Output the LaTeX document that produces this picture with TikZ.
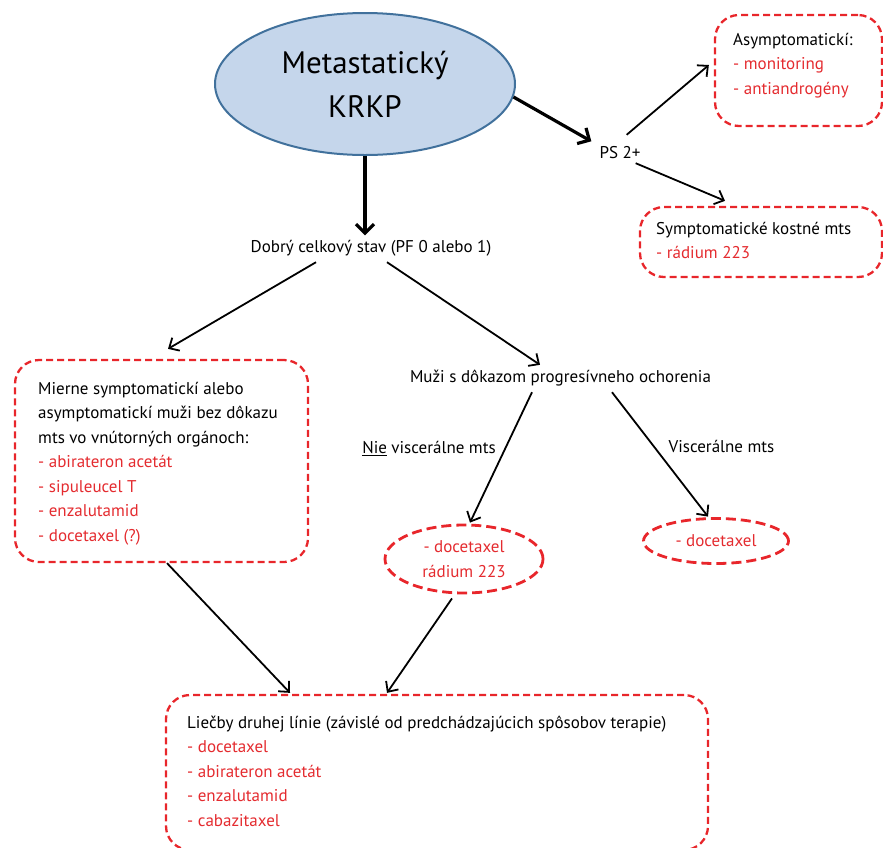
\documentclass[tikz,border=0pt]{standalone}
\usepackage{fontspec}
\setmainfont{PT Sans}
\usetikzlibrary{arrows.meta,shapes.geometric}
\definecolor{rd}{HTML}{E8262B}
\definecolor{txtred}{HTML}{E42B2F}
\definecolor{ellfill}{HTML}{C5D6EB}
\definecolor{elldraw}{HTML}{41719C}
\newcommand{\fsz}{\fontsize{17}{24.5}\selectfont}
\newcommand{\strutx}{\rule{0pt}{14pt}}
\begin{document}
\begin{tikzpicture}[x=1pt,y=-1pt,
  box/.style={draw=rd, line width=2.3pt, dash pattern=on 7pt off 4pt, rounded corners=24pt, inner sep=0},
  oval/.style={ellipse, draw=rd, line width=2.8pt, dash pattern=on 10pt off 5pt, inner sep=0, text=txtred, font=\fsz, align=center},
  arr/.style={-{Straight Barb[length=8pt,width=15pt]}, line width=1.8pt},
  tarr/.style={-{Straight Barb[length=9pt,width=18pt]}, line width=3.2pt},
  lbl/.style={font=\fsz, inner sep=0, text height=13pt, text depth=2pt},
  txt/.style={font=\fsz, inner sep=0, align=left, anchor=north west},
  mainell/.style={ellipse, fill=ellfill, draw=elldraw, line width=2pt, minimum width=300pt, minimum height=142pt, inner sep=0, font=\fontsize{31}{44}\selectfont, align=center}
  ]
\useasboundingbox (0,0) rectangle (883,847);

% main ellipse
\node[mainell] (main) at (365,84) {Metastatický\\KRKP};

% labels
\node[lbl] (dobry) at (371,247) {Dobrý celkový stav (PF 0 alebo 1)};
\node[lbl] (ps) at (620,153) {PS 2+};
\node[lbl] (muzi) at (560.5,377) {Muži s dôkazom progresívneho ochorenia};
\node[lbl] (nie) at (429,448) {\underline{Nie} viscerálne mts};
\node[lbl] (visc) at (721.5,447) {Viscerálne mts};

% boxes
\node[box, minimum width=167pt, minimum height=111pt] (asym) at (798.5,70.5) {};
\node[txt] (asymt) at (733,31) {\strutx Asymptomatickí:\\\textcolor{txtred}{- monitoring}\\\textcolor{txtred}{- antiandrogény}};

\node[box, minimum width=242pt, minimum height=70pt] (sym) at (761,242) {};
\node[txt] (symt) at (656,220) {\strutx Symptomatické kostné mts\\\textcolor{txtred}{- rádium 223}};

\node[box, minimum width=293pt, minimum height=202pt] (left) at (161.5,461) {};
\node[txt] (leftt) at (38,380) {\strutx Mierne symptomatickí alebo\\asymptomatickí muži bez dôkazu\\mts vo vnútorných orgánoch:\\\textcolor{txtred}{- abirateron acetát}\\\textcolor{txtred}{- sipuleucel T}\\\textcolor{txtred}{- enzalutamid}\\\textcolor{txtred}{- docetaxel (?)}};

\node[box, minimum width=542pt, minimum height=155pt] (bottom) at (437,772.5) {};
\node[txt] (bottomt) at (187,714) {\strutx Liečby druhej línie (závislé od predchádzajúcich spôsobov terapie)\\\textcolor{txtred}{- docetaxel}\\\textcolor{txtred}{- abirateron acetát}\\\textcolor{txtred}{- enzalutamid}\\\textcolor{txtred}{- cabazitaxel}};

% ovals
\node[oval, minimum width=158pt, minimum height=68pt] (oval1) at (464,559) {- docetaxel\\rádium 223};
\node[oval, minimum width=145pt, minimum height=45pt] (oval2) at (716,541) {- docetaxel};

% arrows
\draw[tarr] (main.south) -- ([xshift=-6pt,yshift=4pt]dobry.north);
\draw[tarr] (main.-5) -- ([xshift=-8pt,yshift=4pt]ps.north west);
\draw[arr] ([xshift=-14pt,yshift=10.5pt]ps.north east) -- ([xshift=-5pt,yshift=5.5pt]asym.west);
\draw[arr] ([xshift=-5pt,yshift=-2.5pt]ps.south east) -- ([xshift=-36pt,yshift=5pt]sym.north);
\draw[arr] ([xshift=-55pt,yshift=-7.5pt]dobry.south) -- ([xshift=6.5pt,yshift=10pt]left.north);
\draw[arr] ([xshift=16pt,yshift=-7.5pt]dobry.south) -- ([xshift=-20.5pt,yshift=4.5pt]muzi.north);
\draw[arr] ([xshift=-28.5pt,yshift=-7.5pt]muzi.south) -- ([xshift=6pt,yshift=1pt]oval1.north);
\draw[arr] ([xshift=51.5pt,yshift=-7.5pt]muzi.south) -- ([xshift=-8pt,yshift=0.5pt]oval2.north);
\draw[arr] ([xshift=5.5pt]left.south) -- ([xshift=-147pt,yshift=1pt]bottom.north);
\draw[arr] ([xshift=-12pt,yshift=-4pt]oval1.south) -- ([xshift=-50pt,yshift=1pt]bottom.north);
\end{tikzpicture}
\end{document}
